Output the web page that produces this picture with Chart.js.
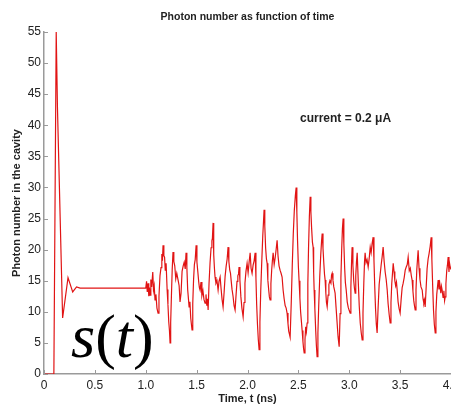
<!DOCTYPE html>
<html>
<head>
<meta charset="utf-8">
<script src="https://cdn.jsdelivr.net/npm/chart.js@4/dist/chart.umd.min.js"></script>
<style>
  html, body { margin: 0; padding: 0; background: #fff; overflow: hidden; }
  #photon-canvas { display: block; }
</style>
</head>
<body>
<canvas id="photon-canvas" width="451" height="404"></canvas>
<script>
// time axis (ns) and photon number
let timeNs = [
  0, 0.085, 0.097, 0.12, 0.132, 0.183, 0.236, 0.282, 0.32, 0.355,
  1.000, 1.008, 1.015, 1.023, 1.030, 1.036, 1.042, 1.050, 1.058, 1.069,
  1.076, 1.083, 1.091, 1.100, 1.110, 1.121, 1.130, 1.140, 1.150, 1.158,
  1.164, 1.170, 1.178, 1.185, 1.192, 1.200, 1.210, 1.218, 1.226, 1.233,
  1.239, 1.245, 1.252, 1.260, 1.268, 1.276, 1.285, 1.295, 1.305, 1.318,
  1.328, 1.337, 1.347, 1.357, 1.368, 1.378, 1.388, 1.396, 1.404, 1.412,
  1.420, 1.426, 1.434, 1.442, 1.450, 1.455, 1.462, 1.470, 1.478, 1.486,
  1.495, 1.503, 1.512, 1.520, 1.527, 1.534, 1.543, 1.552, 1.562, 1.572,
  1.583, 1.592, 1.600, 1.607, 1.613, 1.622, 1.632, 1.642, 1.650, 1.655,
  1.662, 1.668, 1.675, 1.681, 1.690, 1.700, 1.711, 1.720, 1.731, 1.740,
  1.750, 1.760, 1.770, 1.780, 1.790, 1.800, 1.809, 1.817, 1.825, 1.833,
  1.839, 1.848, 1.858, 1.868, 1.878, 1.888, 1.897, 1.905, 1.912, 1.917,
  1.925, 1.935, 1.945, 1.957, 1.966, 1.975, 1.985, 1.996, 2.006, 2.016,
  2.026, 2.035, 2.045, 2.055, 2.065, 2.075, 2.083, 2.090, 2.098, 2.106,
  2.114, 2.122, 2.130, 2.140, 2.150, 2.157, 2.163, 2.170, 2.178, 2.186,
  2.193, 2.200, 2.208, 2.215, 2.222, 2.230, 2.238, 2.245, 2.252, 2.262,
  2.272, 2.282, 2.291, 2.300, 2.310, 2.320, 2.330, 2.340, 2.350, 2.360,
  2.370, 2.380, 2.389, 2.398, 2.405, 2.412, 2.419, 2.430, 2.440, 2.450,
  2.460, 2.470, 2.478, 2.485, 2.492, 2.500, 2.507, 2.515, 2.522, 2.530,
  2.537, 2.545, 2.551, 2.557, 2.565, 2.572, 2.579, 2.586, 2.593, 2.600,
  2.608, 2.616, 2.623, 2.630, 2.638, 2.645, 2.650, 2.655, 2.662, 2.670,
  2.677, 2.684, 2.692, 2.700, 2.710, 2.720, 2.728, 2.734, 2.742, 2.750,
  2.757, 2.763, 2.770, 2.776, 2.783, 2.792, 2.800, 2.810, 2.820, 2.826,
  2.832, 2.840, 2.848, 2.855, 2.861, 2.870, 2.880, 2.890, 2.901, 2.910,
  2.918, 2.926, 2.933, 2.940, 2.947, 2.955, 2.962, 2.970, 2.980, 2.990,
  3.000, 3.009, 3.016, 3.022, 3.028, 3.036, 3.044, 3.051, 3.058, 3.064,
  3.071, 3.078, 3.088, 3.098, 3.108, 3.118, 3.127, 3.135, 3.143, 3.150,
  3.156, 3.165, 3.175, 3.186, 3.196, 3.206, 3.215, 3.225, 3.235, 3.243,
  3.250, 3.258, 3.266, 3.274, 3.284, 3.294, 3.304, 3.314, 3.323, 3.333,
  3.343, 3.353, 3.363, 3.373, 3.382, 3.392, 3.402, 3.410, 3.418, 3.425,
  3.432, 3.440, 3.448, 3.456, 3.464, 3.471, 3.480, 3.490, 3.500, 3.510,
  3.520, 3.530, 3.540, 3.550, 3.560, 3.570, 3.579, 3.590, 3.600, 3.610,
  3.618, 3.626, 3.634, 3.641, 3.648, 3.656, 3.664, 3.671, 3.677, 3.686,
  3.695, 3.705, 3.717, 3.725, 3.733, 3.740, 3.746, 3.755, 3.765, 3.775,
  3.785, 3.795, 3.805, 3.812, 3.820, 3.828, 3.836, 3.845, 3.852, 3.860,
  3.867, 3.874, 3.882, 3.890, 3.900, 3.906, 3.913, 3.922, 3.930, 3.937,
  3.943, 3.950, 3.958, 3.965, 3.972, 3.980, 3.986, 3.992, 4.000
];
let photonNumber = [
  0, 0, 0, 55, 43, 9, 15.5, 13.2, 14, 13.8,
  13.8, 14.9, 13.2, 14.6, 12.5, 13.9, 12.7, 15.2, 14.0, 16.4,
  13.5, 14.2, 11.9, 12.8, 10.6, 9.8, 12.5, 15.8, 17.1, 19.3,
  18.2, 20.7, 19.0, 18.8, 16.6, 17.8, 13.6, 11.2, 8.4, 7.0,
  5.0, 8.3, 12.4, 16.8, 19.6, 18.1, 17.4, 15.3, 16.2, 15.1,
  14.2, 11.6, 13.0, 16.5, 17.4, 18.0, 16.9, 19.5, 17.2, 13.6,
  12.0, 10.8, 11.6, 9.0, 7.8, 7.1, 11.3, 15.2, 17.6, 18.4,
  20.7, 18.0, 16.4, 14.9, 13.9, 13.5, 14.8, 12.6, 13.4, 12.0,
  11.4, 12.8, 11.0, 12.1, 10.3, 14.6, 17.9, 20.3, 21.4, 21.8,
  24.3, 19.2, 17.0, 15.6, 14.6, 15.0, 13.5, 14.9, 15.6, 13.8,
  12.0, 10.8, 13.1, 15.7, 17.3, 18.5, 20.4, 18.1, 16.8, 16.2,
  15.1, 13.6, 12.5, 11.0, 10.3, 12.8, 14.9, 15.8, 16.1, 17.2,
  15.2, 12.4, 10.6, 9.2, 11.5, 14.6, 16.5, 17.8, 16.3, 18.0,
  19.5, 17.0, 16.2, 17.5, 18.2, 19.5, 15.4, 11.2, 8.0, 5.6,
  3.9, 8.4, 13.3, 18.0, 22.2, 24.4, 26.4, 23.8, 20.3, 18.5,
  17.8, 15.1, 13.6, 12.4, 11.9, 14.5, 16.8, 18.3, 19.5, 17.6,
  18.7, 20.1, 21.5, 19.0, 17.4, 16.7, 16.2, 15.6, 13.5, 12.1,
  11.0, 10.6, 9.8, 8.1, 6.9, 6.4, 5.9, 11.5, 17.5, 22.6,
  26.3, 28.6, 30.0, 26.0, 21.4, 17.3, 15.0, 12.2, 10.0, 8.4,
  7.0, 5.2, 4.1, 3.4, 5.5, 7.6, 6.8, 8.2, 14.5, 20.4,
  25.3, 28.5, 26.1, 23.5, 21.2, 20.4, 16.4, 13.5, 10.5, 7.1,
  4.6, 2.8, 6.6, 11.0, 15.6, 19.2, 21.4, 22.6, 20.2, 17.8,
  16.0, 15.1, 13.0, 11.5, 10.8, 12.7, 14.4, 15.0, 14.6, 15.9,
  16.2, 15.1, 14.0, 13.5, 13.0, 10.8, 8.4, 6.0, 4.4, 9.7,
  15.5, 20.2, 23.4, 25.0, 21.0, 17.0, 14.7, 13.5, 11.6, 10.7,
  10.2, 9.8, 14.0, 17.6, 20.4, 17.5, 15.0, 13.8, 13.0, 15.8,
  18.0, 19.5, 15.1, 11.0, 8.2, 6.6, 5.5, 9.8, 14.6, 18.0,
  19.5, 17.9, 18.4, 17.2, 18.6, 20.4, 19.5, 21.0, 22.0, 18.2,
  14.3, 10.6, 8.0, 6.6, 10.8, 14.4, 16.0, 17.6, 18.8, 20.4,
  18.1, 16.4, 15.2, 13.5, 11.3, 9.6, 8.2, 11.5, 14.6, 16.2,
  17.8, 16.5, 15.0, 14.2, 14.8, 13.5, 11.6, 10.5, 9.8, 12.0,
  13.9, 14.6, 15.5, 16.7, 17.2, 17.6, 18.8, 16.6, 17.0, 15.8,
  15.1, 13.3, 11.8, 11.0, 10.3, 13.5, 16.8, 18.5, 19.9, 17.0,
  15.2, 14.0, 13.5, 12.1, 11.4, 11.9, 10.8, 13.6, 16.9, 18.5,
  19.4, 20.5, 22.0, 18.4, 14.1, 10.3, 8.0, 6.6, 10.0, 12.8,
  14.0, 15.1, 13.6, 14.5, 13.0, 14.1, 13.5, 12.3, 13.4, 11.8,
  12.4, 14.5, 16.6, 17.5, 18.8, 16.4, 17.8, 17.2, 16.8
];
let xTickStep = 0.5;
let yTickStep = 5;

let chartTitle = "Photon number as function of time";
let xTitle = "Time, t (ns)";
let yTitle = "Photon number in the cavity";
let noteText = "current = 0.2 \u03bcA";

var photonChart;

// inward ticks, like the matlab axes, plus the text on the plot
const extrasPlugin = {
  id: 'extras',
  afterDraw(chart) {
    const ctx = chart.ctx;
    const xs = chart.scales.x;
    const ys = chart.scales.y;
    const area = chart.chartArea;
    ctx.save();
    ctx.strokeStyle = '#9a9a9a';
    ctx.lineWidth = 1;
    ctx.beginPath();
    xs.ticks.forEach(t => {
      let px = Math.round(xs.getPixelForValue(t.value)) + 0.5;
      ctx.moveTo(px, area.bottom);
      ctx.lineTo(px, area.bottom - 4);
    });
    ys.ticks.forEach(t => {
      let py = Math.round(ys.getPixelForValue(t.value)) + 0.5;
      ctx.moveTo(area.left, py);
      ctx.lineTo(area.left + 4, py);
    });
    ctx.stroke();

    ctx.fillStyle = '#222';
    ctx.textAlign = 'center';
    ctx.textBaseline = 'middle';
    ctx.font = 'bold 10.5px "Liberation Sans", Arial, sans-serif';
    ctx.fillText(chartTitle, (area.left + area.right) / 2, 17);

    ctx.textAlign = 'left';
    ctx.font = 'bold 12px "Liberation Sans", Arial, sans-serif';
    ctx.fillText(noteText, 300, 119);

    // s(t)
    ctx.fillStyle = '#000';
    ctx.textBaseline = 'alphabetic';
    let x0 = 71, base = 357;
    ctx.font = 'italic 62px "Liberation Serif", "Times New Roman", serif';
    ctx.fillText('s', x0, base);
    x0 += ctx.measureText('s').width;
    ctx.font = '62px "Liberation Serif", "Times New Roman", serif';
    ctx.fillText('(', x0, base);
    x0 += ctx.measureText('(').width;
    ctx.font = 'italic 62px "Liberation Serif", "Times New Roman", serif';
    ctx.fillText('t', x0, base);
    x0 += ctx.measureText('t').width;
    ctx.font = '62px "Liberation Serif", "Times New Roman", serif';
    ctx.fillText(')', x0, base);
    ctx.restore();
  }
};

main();

function main() {
  let points = [];
  for (let i = 0; i < timeNs.length; i++) {
    points.push({ x: timeNs[i], y: photonNumber[i] });
  }
  console.log(timeNs.length, photonNumber.length);
  photonChart = setPhotonChart(points);
}

function setPhotonChart(points) {
  var ctx = document.getElementById("photon-canvas");
  return new Chart(ctx, {
    type: 'line',
    data: {
      datasets: [
        {
          label: "photons",
          data: points,
          borderColor: 'rgb(225, 20, 20)',
          backgroundColor: 'rgb(225, 20, 20)',
          borderWidth: 1.2,
          pointRadius: 0,
          tension: 0,
          fill: false
        }
      ]
    },
    options: {
      responsive: false,
      animation: false,
      layout: { padding: { top: 32, left: 0, right: 0, bottom: 0 } },
      plugins: {
        legend: { display: false },
        tooltip: { enabled: false }
      },
      scales: {
        x: {
          type: 'linear',
          min: 0,
          max: 4,
          grid: { display: true, drawOnChartArea: false, drawTicks: false, color: '#9a9a9a' },
          border: { display: true, color: '#9a9a9a', width: 1.5 },
          ticks: {
            stepSize: xTickStep,
            color: '#222',
            padding: 4,
            maxRotation: 0,
            autoSkip: false,
            font: { family: '"Liberation Sans", Arial, sans-serif', size: 12 }
          },
          title: {
            display: true,
            text: xTitle,
            color: '#222',
            padding: { top: 0, bottom: -2 },
            font: { family: '"Liberation Sans", Arial, sans-serif', size: 11, weight: 'bold' }
          },
          afterFit(scale) {
            scale.height = 30;
            scale.paddingLeft = 0;
            scale.paddingRight = 0;
          }
        },
        y: {
          min: 0,
          max: 55,
          grid: { display: true, drawOnChartArea: false, drawTicks: false, color: '#9a9a9a' },
          border: { display: true, color: '#9a9a9a', width: 1.5 },
          ticks: {
            stepSize: yTickStep,
            color: '#222',
            padding: 3,
            font: { family: '"Liberation Sans", Arial, sans-serif', size: 12 }
          },
          title: {
            display: true,
            text: yTitle,
            color: '#222',
            padding: { top: 10, bottom: 0 },
            font: { family: '"Liberation Sans", Arial, sans-serif', size: 11, weight: 'bold' }
          },
          afterFit(scale) {
            scale.width = 44;
            scale.paddingTop = 0;
            scale.paddingBottom = 0;
          }
        }
      }
    },
    plugins: [extrasPlugin]
  });
}
</script>
</body>
</html>
